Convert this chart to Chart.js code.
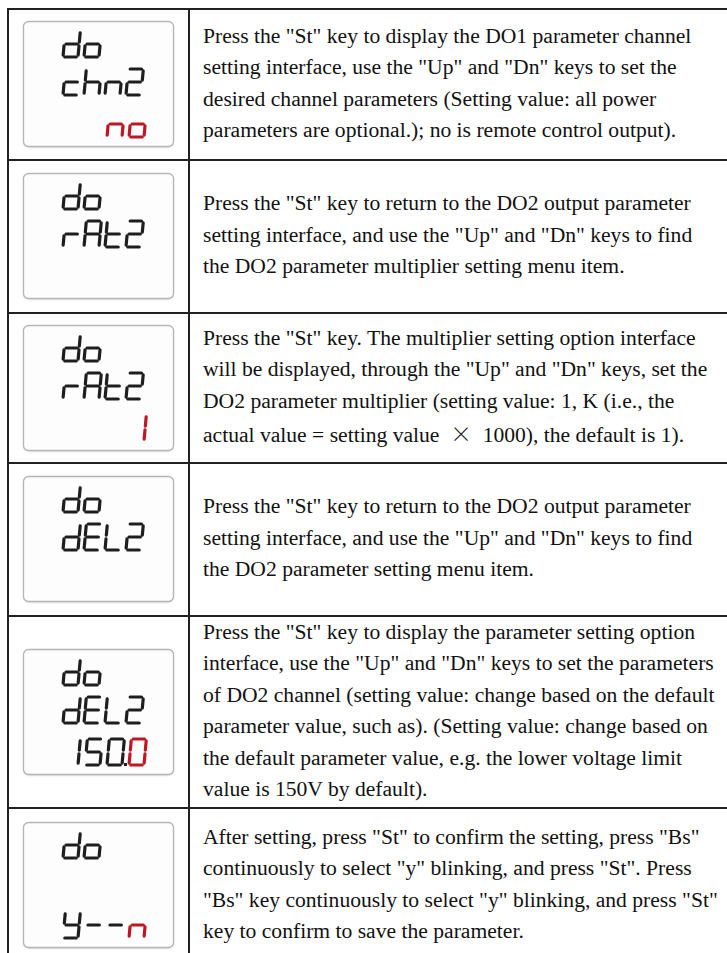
<!DOCTYPE html>
<html>
<head>
<meta charset="utf-8">
<script src="https://cdn.jsdelivr.net/npm/chart.js@4/dist/chart.umd.min.js"></script>
<style>
  html, body { margin: 0; padding: 0; background: #fff; width: 727px; height: 953px; overflow: hidden; }
  #page { position: relative; width: 727px; height: 953px; }
  .row { position: absolute; left: 7px; width: 760px; border-top: 2px solid #222; border-left: 2px solid #222; box-sizing: border-box; }
  .divider { position: absolute; left: 188px; width: 2px; background: #222; }
  .txt { position: absolute; left: 203px; width: 540px; display: flex; align-items: center;
         font-family: "Liberation Serif", "Times New Roman", serif; font-size: 21.6px; line-height: 31.5px;
         color: #111; white-space: nowrap; }
  .times { font-family: "Noto Sans CJK SC", sans-serif; font-weight: 300; }
  canvas.lcd { position: absolute; left: 18px; }
</style>
</head>
<body>
<div id="page"></div>
<script>
// LCD readouts for each step (top / middle / bottom line)
const lcdTop = ["do", "do", "do", "do", "do", "do"];
const lcdMid = ["chn2", "rAt2", "rAt2", "dEL2", "dEL2", ""];
const lcdBottom = ["no", "", "1", "", "150.0", "y--n"];
// how many trailing characters of the bottom line are lit in red
const lcdRedCount = [2, 0, 1, 0, 1, 1];

// description text, one entry per table row, already broken into lines
const stepText = [
  ['Press the "St" key to display the DO1 parameter channel',
   'setting interface, use the "Up" and "Dn" keys to set the',
   'desired channel parameters (Setting value: all power',
   'parameters are optional.); no is remote control output).'],
  ['Press the "St" key to return to the DO2 output parameter',
   'setting interface, and use the "Up" and "Dn" keys to find',
   'the DO2 parameter multiplier setting menu item.'],
  ['Press the "St" key. The multiplier setting option interface',
   'will be displayed, through the "Up" and "Dn" keys, set the',
   'DO2 parameter multiplier (setting value: 1, K (i.e., the',
   'actual value = setting value \u00d7 1000), the default is 1).'],
  ['Press the "St" key to return to the DO2 output parameter',
   'setting interface, and use the "Up" and "Dn" keys to find',
   'the DO2 parameter setting menu item.'],
  ['Press the "St" key to display the parameter setting option',
   'interface, use the "Up" and "Dn" keys to set the parameters',
   'of DO2 channel (setting value: change based on the default',
   'parameter value, such as). (Setting value: change based on',
   'the default parameter value, e.g. the lower voltage limit',
   'value is 150V by default).'],
  ['After setting, press "St" to confirm the setting, press "Bs"',
   'continuously to select "y" blinking, and press "St". Press',
   '"Bs" key continuously to select "y" blinking, and press "St"',
   'key to confirm to save the parameter.']
];

const rowTops = [8, 159, 312, 462, 615, 807];
const rowHeights = [151, 153, 150, 153, 192, 155];

const SEGS = {
  'd': 'bcdeg', 'o': 'cdeg', 'c': 'deg', 'h': 'cefg', 'n': 'ceg', '2': 'abdeg',
  'r': 'eg', 'A': 'abcefg', 't': 'defg', 'E': 'adefg', 'L': 'def', '1': 'bc',
  '5': 'acdfg', '0': 'abcdef', 'y': 'bcdfg', '-': 'g'
};

function drawGlyph(ctx, ch, x, y, w, h, color) {
  const segs = SEGS[ch] || '';
  const slant = 0.09;
  const gap = 1.8;
  const P = (px, py) => [x + px + slant * (h - py), y + py];
  const lines = {
    a: [[gap, 0], [w - gap, 0]],
    b: [[w, gap], [w, h / 2 - gap]],
    c: [[w, h / 2 + gap], [w, h - gap]],
    d: [[gap, h], [w - gap, h]],
    e: [[0, h / 2 + gap], [0, h - gap]],
    f: [[0, gap], [0, h / 2 - gap]],
    g: [[gap, h / 2], [w - gap, h / 2]]
  };
  ctx.save();
  ctx.strokeStyle = color;
  ctx.lineWidth = 3.2;
  ctx.lineCap = 'round';
  for (const s of segs) {
    const [p0, p1] = lines[s];
    const a = P(p0[0], p0[1]), b = P(p1[0], p1[1]);
    ctx.beginPath();
    ctx.moveTo(a[0], a[1]);
    ctx.lineTo(b[0], b[1]);
    ctx.stroke();
  }
  ctx.restore();
}

function lcdPlugin(i) {
  return {
    id: 'lcd',
    afterDraw(chart) {
      const ctx = chart.ctx;
      const bx = 5, by = 5, bw = 150, bh = 125;
      ctx.save();
      ctx.shadowColor = 'rgba(0,0,0,0.18)';
      ctx.shadowBlur = 2;
      ctx.shadowOffsetY = 1;
      ctx.fillStyle = '#fdfdfd';
      ctx.strokeStyle = '#b5b5b5';
      ctx.lineWidth = 1.3;
      ctx.beginPath();
      ctx.roundRect(bx + 0.5, by + 0.5, bw, bh, 5);
      ctx.fill();
      ctx.shadowColor = 'transparent';
      ctx.stroke();
      ctx.restore();

      const black = '#1e1e1e', red = '#be1622';
      const cw = 15, chh = 26, pitch = 21;
      const x0 = bx + 40;
      [lcdTop[i], lcdMid[i]].forEach((str, li) => {
        const ty = by + (li === 0 ? 10 : 48);
        [...str].forEach((ch, k) => drawGlyph(ctx, ch, x0 + k * pitch, ty, cw, chh, black));
      });
      // bottom line: right aligned in a 4 digit field
      const bot = lcdBottom[i];
      if (bot) {
        const chars = [];
        for (const ch of bot) {
          if (ch === '.') { chars[chars.length - 1].dp = true; } else chars.push({ ch });
        }
        const bp = 22, right = bx + 121;
        const n = chars.length;
        chars.forEach((c, k) => {
          const col = k >= n - lcdRedCount[i] ? red : black;
          const gx = right - (n - 1 - k) * bp - cw;
          const gy = by + 90;
          drawGlyph(ctx, c.ch, gx, gy, cw, chh, col);
          if (c.dp) {
            ctx.fillStyle = black;
            ctx.fillRect(gx + cw + 2, gy + chh - 2, 3, 3);
          }
        });
      }
    }
  };
}

const page = document.getElementById('page');
stepText.forEach((lines, i) => {
  const top = rowTops[i], h = rowHeights[i];
  const row = document.createElement('div');
  row.className = 'row';
  row.style.top = top + 'px';
  row.style.height = h + 'px';
  page.appendChild(row);

  const div = document.createElement('div');
  div.className = 'divider';
  div.style.top = top + 'px';
  div.style.height = h + 'px';
  page.appendChild(div);

  const txt = document.createElement('div');
  txt.className = 'txt';
  txt.style.top = top + 'px';
  txt.style.height = h + 'px';
  const inner = document.createElement('div');
  inner.innerHTML = lines.map(l => l.replace('\u00d7', '&nbsp;<span class="times">\u00d7</span>&nbsp;')).join('<br>');
  txt.appendChild(inner);
  page.appendChild(txt);

  const cv = document.createElement('canvas');
  cv.className = 'lcd';
  cv.width = 162; cv.height = 137;
  cv.style.top = (top + Math.round((h - 125) / 2) - 5) + 'px';
  cv.setAttribute('aria-label', [lcdTop[i], lcdMid[i], lcdBottom[i]].join(' '));
  page.appendChild(cv);

  new Chart(cv, {
    type: 'scatter',
    data: { datasets: [] },
    options: {
      responsive: false,
      animation: false,
      events: [],
      plugins: { legend: { display: false }, tooltip: { enabled: false } },
      scales: { x: { display: false }, y: { display: false } }
    },
    plugins: [lcdPlugin(i)]
  });
});
</script>
</body>
</html>
